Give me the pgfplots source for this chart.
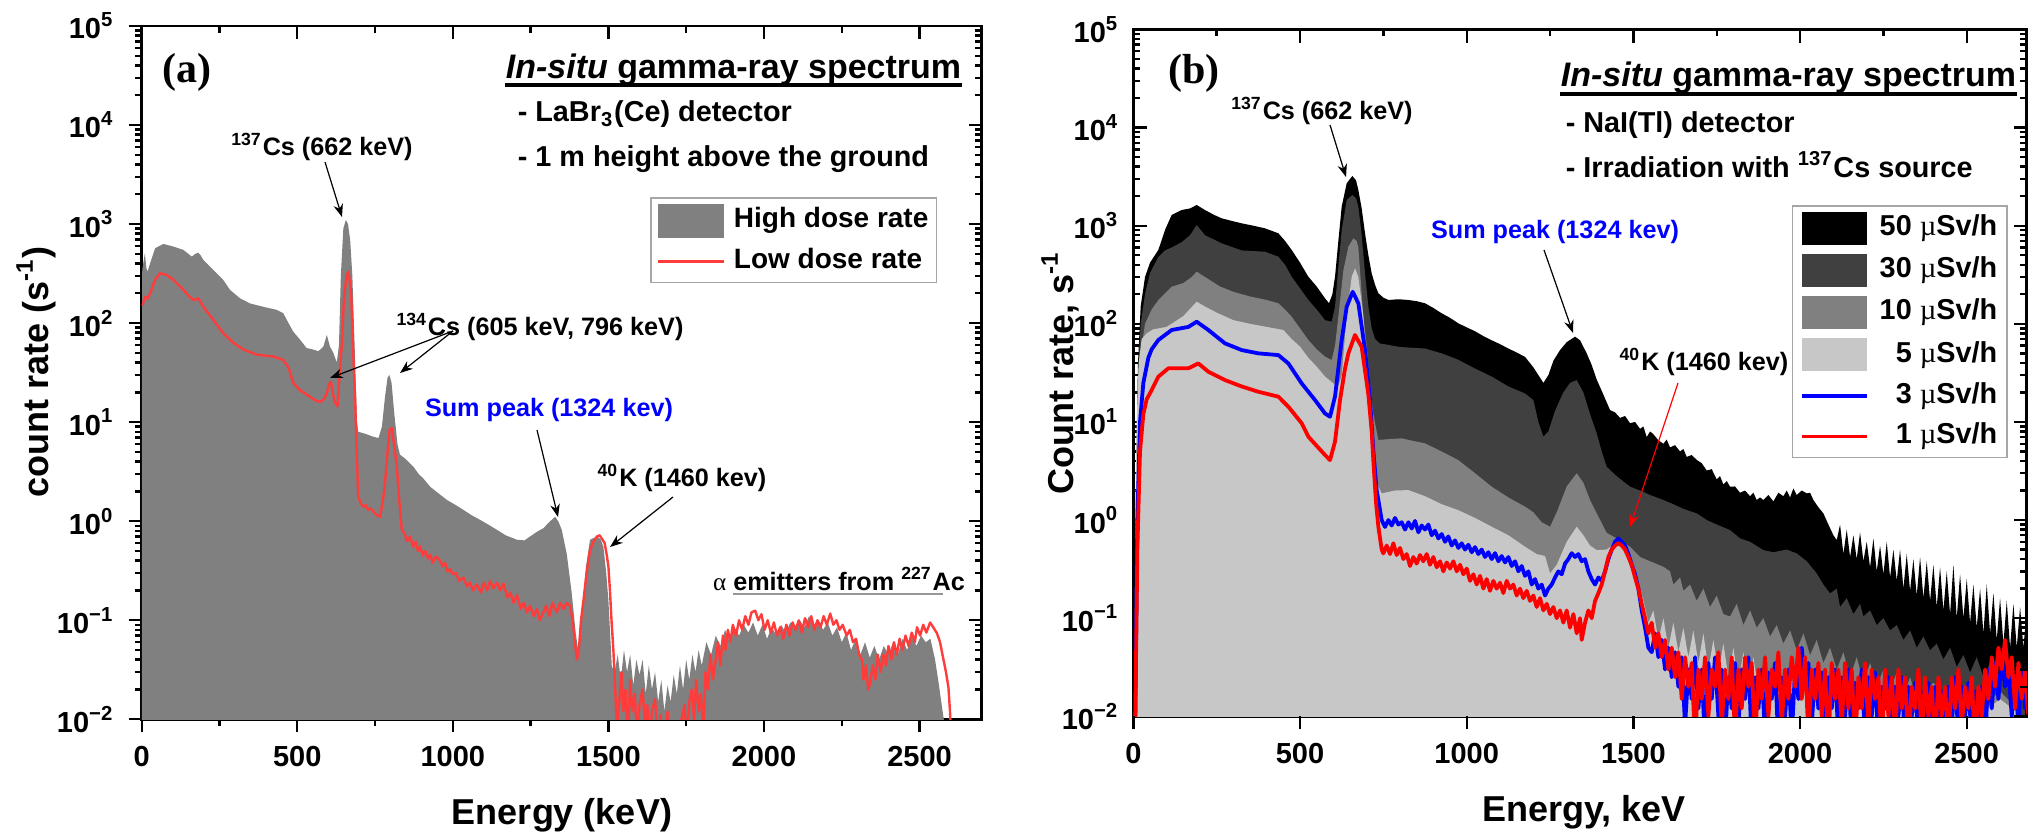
\documentclass[border=0pt]{standalone}
\usepackage{fontspec}
\setmainfont{Liberation Sans}
\newfontfamily\seriffont{Liberation Serif}
\usepackage{pgfplots}
\pgfplotsset{compat=1.18}
\usetikzlibrary{calc,arrows.meta}

\definecolor{hidose}{RGB}{128,128,128}
\definecolor{lodose}{RGB}{255,60,60}
\definecolor{g30}{RGB}{64,64,64}
\definecolor{g10}{RGB}{128,128,128}
\definecolor{g5}{RGB}{199,199,199}
\definecolor{lgray}{RGB}{150,150,150}

\newcommand{\ufont}[1]{\fontsize{#1}{#1}\selectfont\bfseries}
\newcommand{\mus}{{\seriffont\mdseries µ}}
\newcommand{\logtick}{\pgfmathtruncatemacro\myexp{round(\tick/2.302585)}\pgfmathtruncatemacro\myabs{abs(\myexp)}10\textsuperscript{\ifnum\myexp<0 −\fi\myabs}}

\begin{document}
\begin{tikzpicture}
\useasboundingbox (0,0) rectangle (507.5pt,208.5pt);
\clip (0,0) rectangle (507.5pt,208.5pt);

% ---------------- panel (a) ----------------
\begin{axis}[at={(35.43pt,28.68pt)}, anchor=south west,
  scale only axis, width=210pt, height=173.33pt,
  ymode=log, ymin=1e-2, ymax=1e5, xmin=0, xmax=2700,
  xtick={0,500,1000,1500,2000,2500}, minor x tick num=1,
  ytick={1e-2,1e-1,1,1e1,1e2,1e3,1e4,1e5},
  minor ytick={0.02,0.03,0.04,0.05,0.06,0.07,0.08,0.09,0.2,0.3,0.4,0.5,0.6,0.7,0.8,0.9,2,3,4,5,6,7,8,9,20,30,40,50,60,70,80,90,200,300,400,500,600,700,800,900,2000,3000,4000,5000,6000,7000,8000,9000,20000,30000,40000,50000,60000,70000,80000,90000},
  tick align=outside, xtick pos=left, ytick pos=left,
  major tick length=3.3pt, minor tick length=1.7pt,
  axis line style={line width=0.7pt},
  every tick/.style={black, line width=0.6pt},
  tick label style={font=\ufont{7.25}},
  /pgf/number format/assume math mode=true,
  /pgf/number format/1000 sep={},
  yticklabel={\logtick},
  legend style={at={(0.947,0.753)}, anchor=north east, draw=gray!70,
    line width=0.4pt, font=\ufont{7}, inner xsep=1.5pt, inner ysep=1.5pt,
    row sep=2.2pt, nodes={inner sep=0.5pt},
    /tikz/every odd column/.append style={column sep=1.8pt}},
  legend cell align=left]
\addplot[fill=hidose, draw=none,
  legend image code/.code={\fill[fill=hidose] (0pt,-4.2pt) rectangle (16.4pt,4.2pt);}] table {
x y
0 0.001
1 300
2 350
6 420
10 507
15 360
19 331
27 402
43 570
70 630
102 592
134 548
150 500
161 469
172 500
182 514
190 480
198 434
230 344
262 273
284 216
316 178
348 158
391 146
434 136
455 126
466 108
487 82
509 68
530 56
552 54
568 52
584 58
595 76
605 58
616 50
627 40
634 60
640 300
648 900
656 1099
663 1000
670 692
677 300
683 80
688 25
692 10
696 8.0
720 7.6
740 7.2
761 6.9
772 9
782 18
790 28
796 30
803 25
812 12
822 6
830 4.7
850 4.2
873 3.56
890 3.0
905 2.7
927 2.23
950 1.95
981 1.64
1010 1.45
1034 1.30
1060 1.15
1088 1.03
1115 0.92
1141 0.82
1170 0.72
1206 0.65
1230 0.64
1248 0.70
1270 0.78
1291 0.85
1313 1.0
1329 1.11
1340 0.98
1350 0.82
1366 0.47
1382 0.19
1395 0.074
1405 0.045
1415 0.12
1428 0.35
1441 0.65
1463 0.70
1475 0.66
1484 0.55
1493 0.30
1500 0.16
1507 0.06
1511 0.034
1520 0.03
1530 0.045
1540 0.025
1550 0.05
1560 0.03
1570 0.045
1580 0.022
1590 0.04
1600 0.028
1610 0.04
1620 0.018
1630 0.035
1640 0.02
1650 0.03
1660 0.015
1670 0.025
1680 0.012
1690 0.022
1700 0.015
1710 0.028
1720 0.018
1730 0.035
1740 0.02
1750 0.04
1760 0.025
1770 0.045
1780 0.03
1790 0.05
1800 0.035
1815 0.06
1830 0.045
1845 0.07
1860 0.055
1875 0.08
1890 0.06
1905 0.085
1920 0.07
1935 0.09
1950 0.075
1965 0.095
1980 0.07
1995 0.09
2010 0.065
2025 0.085
2040 0.07
2055 0.09
2070 0.075
2085 0.095
2100 0.08
2115 0.1
2130 0.085
2145 0.11
2160 0.09
2175 0.1
2190 0.08
2205 0.095
2220 0.07
2235 0.085
2250 0.06
2265 0.075
2280 0.05
2295 0.065
2310 0.045
2325 0.06
2340 0.042
2355 0.055
2370 0.04
2385 0.055
2400 0.045
2415 0.06
2430 0.045
2445 0.065
2460 0.05
2475 0.07
2490 0.055
2505 0.07
2520 0.06
2535 0.065
2550 0.04
2560 0.025
2570 0.015
2578 0.01
2580 0.001
};
\addlegendentry{High dose rate}
\addplot[color=lodose, line width=0.6pt, line join=round,
  legend image code/.code={\draw[color=lodose, line width=0.6pt] (0pt,0pt) -- (16.4pt,0pt);}] table {
x y
3 150
7 171
12 185
18 176
27 200
43 273
59 319
80 306
102 273
134 216
150 190
166 171
182 178
198 146
230 108
262 79
295 63
327 54
370 48
423 46
455 42.5
471 36
487 25
509 21
541 18
560 16.5
573 16
585 17
595 19.6
602 24
608 25.7
614 20
620 16
629 14.4
636 30
643 60
650 171
658 300
664 331
669 260
673 200
677 90
681 40
686 16.7
691 5
696 1.77
705 1.5
712 1.40
720 1.45
728 1.3
735 1.35
745 1.25
755 1.15
766 1.11
775 1.6
782 2.42
790 5
797 8.5
804 8.7
811 6
820 3.56
828 1.6
836 0.82
845 0.75
853 0.63
863 0.7
872 0.55
880 0.62
888 0.5
895 0.56
903 0.45
912 0.5
920 0.42
927 0.46
935 0.38
945 0.44
959 0.40
967 0.35
975 0.38
983 0.31
991 0.33
1000 0.29
1010 0.3
1020 0.25
1034 0.27
1045 0.22
1055 0.24
1065 0.2
1077 0.23
1090 0.19
1100 0.24
1110 0.2
1120 0.25
1130 0.21
1142 0.24
1152 0.2
1163 0.235
1175 0.17
1185 0.19
1195 0.15
1206 0.18
1218 0.13
1228 0.15
1238 0.12
1248 0.14
1260 0.11
1270 0.13
1280 0.1
1291 0.12
1300 0.14
1310 0.11
1320 0.15
1334 0.12
1345 0.15
1356 0.13
1366 0.15
1377 0.14
1385 0.1
1392 0.06
1399 0.04
1405 0.05
1412 0.1
1420 0.16
1430 0.3
1441 0.51
1452 0.62
1463 0.70
1472 0.72
1480 0.66
1488 0.6
1495 0.45
1500 0.35
1505 0.2
1510 0.1
1516 0.05
1522 0.02
1527 0.008
1535 0.015
1542 0.03
1548 0.012
1555 0.02
1562 0.006
1570 0.025
1577 0.012
1585 0.018
1592 0.006
1600 0.014
1610 0.02
1618 0.008
1625 0.014
1632 0.006
1640 0.012
1650 0.016
1660 0.006
1668 0.011
1676 0.005
1690 0.012
1700 0.006
1712 0.009
1720 0.005
1735 0.01
1745 0.014
1752 0.006
1760 0.015
1768 0.02
1775 0.01
1782 0.025
1790 0.012
1797 0.018
1805 0.008
1812 0.03
1820 0.02
1828 0.045
1836 0.025
1845 0.04
1852 0.06
1860 0.035
1868 0.07
1876 0.05
1884 0.08
1892 0.06
1900 0.09
1910 0.07
1920 0.1
1930 0.08
1940 0.11
1950 0.09
1960 0.12
1972 0.125
1982 0.1
1992 0.115
2002 0.08
2012 0.1
2022 0.075
2032 0.095
2042 0.07
2052 0.085
2062 0.065
2072 0.09
2082 0.07
2092 0.095
2102 0.08
2112 0.1
2122 0.075
2132 0.105
2142 0.085
2152 0.11
2162 0.08
2172 0.1
2182 0.085
2192 0.11
2202 0.09
2213 0.117
2223 0.09
2233 0.1
2243 0.08
2253 0.09
2266 0.07
2276 0.08
2286 0.06
2296 0.065
2306 0.045
2315 0.04
2320 0.025
2328 0.035
2335 0.02
2341 0.023
2350 0.035
2358 0.025
2366 0.045
2375 0.03
2384 0.045
2392 0.035
2400 0.055
2410 0.04
2418 0.06
2427 0.045
2436 0.065
2445 0.05
2455 0.07
2465 0.055
2475 0.075
2485 0.06
2492 0.085
2502 0.07
2512 0.09
2522 0.075
2534 0.095
2544 0.085
2556 0.074
2566 0.06
2577 0.04
2585 0.03
2593 0.021
2598 0.012
2603 0.005
};
\addlegendentry{Low dose rate}
\end{axis}
% mirrored ticks, top and right, pointing inwards
\begin{axis}[at={(35.43pt,28.68pt)}, anchor=south west,
  scale only axis, width=210pt, height=173.33pt,
  ymode=log, ymin=1e-2, ymax=1e5, xmin=0, xmax=2700,
  xtick={0,500,1000,1500,2000,2500}, minor x tick num=1,
  ytick={1e-2,1e-1,1,1e1,1e2,1e3,1e4,1e5},
  minor ytick={0.02,0.03,0.04,0.05,0.06,0.07,0.08,0.09,0.2,0.3,0.4,0.5,0.6,0.7,0.8,0.9,2,3,4,5,6,7,8,9,20,30,40,50,60,70,80,90,200,300,400,500,600,700,800,900,2000,3000,4000,5000,6000,7000,8000,9000,20000,30000,40000,50000,60000,70000,80000,90000},
  tick align=inside, xtick pos=right, ytick pos=right,
  xticklabels={}, yticklabels={},
  major tick length=3.3pt, minor tick length=1.7pt,
  axis line style={draw=none},
  every tick/.style={black, line width=0.6pt}]
\end{axis}

% ---------------- panel (b) ----------------
\begin{axis}[at={(283.33pt,29.43pt)}, anchor=south west,
  scale only axis, width=223.35pt, height=171.7pt,
  ymode=log, ymin=1e-2, ymax=1e5, xmin=0, xmax=2680,
  xtick=\empty,
  ytick={1e-2,1e-1,1,1e1,1e2,1e3,1e4,1e5},
  minor ytick={0.02,0.03,0.04,0.05,0.06,0.07,0.08,0.09,0.2,0.3,0.4,0.5,0.6,0.7,0.8,0.9,2,3,4,5,6,7,8,9,20,30,40,50,60,70,80,90,200,300,400,500,600,700,800,900,2000,3000,4000,5000,6000,7000,8000,9000,20000,30000,40000,50000,60000,70000,80000,90000},
  tick align=inside, ytick pos=left,
  major tick length=3.3pt, minor tick length=1.7pt,
  axis line style={line width=0.7pt},
  every tick/.style={black, line width=0.6pt},
  tick label style={font=\ufont{7.25}},
  yticklabel={\logtick},
  legend style={at={(0.979,0.7445)}, anchor=north east, draw=gray!70,
    line width=0.4pt, font=\ufont{7.2}, inner xsep=2pt, inner ysep=1.5pt,
    row sep=2.35pt, nodes={inner sep=0.5pt},
    /tikz/every odd column/.append style={column sep=2.2pt}},
  legend cell align=right]
\addplot[fill=black, draw=none,
  legend image code/.code={\fill[fill=black] (0pt,-4.1pt) rectangle (16.3pt,4.1pt);}] table {
x y
0 0.001
4 0.01
8 2
14 40
22 150
35 300
50 420
75 566
95 904
115 1285
145 1445
170 1500
190 1626
215 1445
240 1300
265 1189
295 1120
325 1057
360 1000
395 940
435 837
455 700
475 566
500 420
525 302
550 240
575 182
587 162
597 200
605 302
615 700
625 1563
640 2704
657 3214
668 2900
675 2312
685 1500
695 837
705 500
715 327
725 250
735 205
750 185
765 175
795 178
825 175
850 170
875 162
900 145
925 128
950 115
975 101
1000 92
1025 84
1050 75
1075 68
1100 62
1125 56
1150 51
1175 46
1200 36
1215 30
1230 25
1245 30
1260 42
1280 54
1300 65
1325 74
1340 68
1360 50
1375 38
1390 27
1410 19
1430 13.2
1445 12.5
1460 11
1475 11.5
1490 9.7
1505 10
1520 8.5
1530 9
1540 7.0
1550 8
1560 7.5
1575 6.5
1590 6.0
1600 6.6
1610 5.5
1625 5.8
1640 5.0
1650 5.3
1660 4.4
1675 4.6
1690 4.1
1705 3.8
1720 3.2
1735 3.3
1750 2.6
1760 2.8
1770 2.3
1780 2.5
1790 2.19
1805 2.2
1820 1.9
1835 2.0
1850 1.75
1860 1.9
1870 1.6
1880 1.7
1890 1.6
1905 1.8
1920 1.55
1935 1.9
1950 1.75
1960 2.0
1970 1.7
1980 2.1
1990 1.8
2005 2.0
2020 1.87
2030 1.9
2040 1.6
2055 1.35
2070 1.17
2085 0.9
2100 0.7
2110 0.625
2120 0.9
2130 0.45
2140 0.8
2150 0.42
2160 0.7
2170 0.4
2180 0.75
2190 0.38
2200 0.6
2210 0.33
2220 0.65
2230 0.3
2240 0.55
2250 0.28
2260 0.6
2270 0.26
2280 0.5
2290 0.24
2300 0.5
2310 0.2
2320 0.45
2330 0.19
2340 0.4
2350 0.17
2360 0.42
2370 0.16
2380 0.38
2390 0.15
2400 0.35
2410 0.13
2420 0.33
2430 0.12
2440 0.3
2450 0.11
2460 0.35
2470 0.1
2480 0.28
2490 0.1
2500 0.25
2510 0.09
2520 0.22
2530 0.08
2540 0.2
2550 0.07
2560 0.22
2570 0.07
2580 0.18
2590 0.06
2600 0.16
2610 0.055
2620 0.15
2630 0.05
2640 0.14
2650 0.05
2660 0.13
2670 0.05
2680 0.12
2690 0.001
};
\addlegendentry{50 \mus Sv/h}
\addplot[fill=g30, draw=none,
  legend image code/.code={\fill[fill=g30] (0pt,-4.1pt) rectangle (16.3pt,4.1pt);}] table {
x y
0 0.001
4 0.01
8 2
14 30
22 100
35 200
50 330
75 480
95 560
115 600
145 680
170 800
190 1016
215 800
265 661
325 560
395 543
435 483
455 400
475 302
500 230
525 175
550 140
575 109
595 105
605 150
615 382
625 900
640 1828
657 2055
668 1900
675 1563
685 800
695 327
705 150
715 90
725 70
740 63
765 61
800 58
840 57
875 56
925 50
975 43
1025 35
1075 29
1125 23
1175 19.5
1200 16.7
1215 10
1230 7.07
1245 8
1265 13
1290 20
1310 25
1330 26.7
1350 20
1370 12
1390 7.66
1405 5
1420 3.49
1450 2.8
1490 2.19
1520 2.0
1550 1.8
1590 1.6
1620 1.45
1650 1.3
1690 1.17
1720 1.0
1750 0.9
1790 0.79
1820 0.65
1850 0.6
1890 0.494
1920 0.47
1960 0.5
1990 0.457
2020 0.38
2050 0.286
2070 0.22
2090 0.179
2110 0.2
2120 0.13
2140 0.16
2160 0.11
2180 0.14
2190 0.104
2210 0.12
2230 0.085
2250 0.1
2270 0.075
2290 0.085
2310 0.06
2330 0.075
2350 0.05
2370 0.065
2390 0.047
2410 0.055
2430 0.038
2450 0.05
2470 0.032
2490 0.042
2510 0.028
2530 0.04
2550 0.025
2570 0.035
2590 0.022
2610 0.03
2630 0.02
2650 0.028
2670 0.0216
2690 0.001
};
\addlegendentry{30 \mus Sv/h}
\addplot[fill=g10, draw=none,
  legend image code/.code={\fill[fill=g10] (0pt,-4.1pt) rectangle (16.3pt,4.1pt);}] table {
x y
0 0.001
4 0.01
8 1
14 15
22 50
35 100
55 140
75 175
115 239
150 260
175 300
190 340
215 300
260 240
300 212
350 190
400 175
435 162
455 140
475 118
500 90
525 68.4
550 55
575 46.3
595 42.8
605 60
615 118
630 350
645 611
660 743
670 700
675 600
690 118
700 60
710 24.7
720 12
735 6.55
770 6.7
805 6.8
840 6.4
875 6.05
925 5
975 4.08
1025 3.0
1075 2.19
1125 1.7
1175 1.37
1200 1.2
1225 0.95
1250 0.855
1270 1.2
1300 2.2
1330 3.0
1350 2.4
1370 1.6
1390 1.17
1420 0.74
1450 0.65
1490 0.535
1520 0.42
1550 0.38
1590 0.334
1610 0.3
1620 0.22
1640 0.26
1650 0.19
1670 0.22
1690 0.15
1710 0.2
1730 0.13
1750 0.17
1770 0.11
1790 0.104
1810 0.14
1830 0.085
1850 0.12
1870 0.08
1890 0.1
1910 0.065
1930 0.085
1950 0.055
1970 0.075
1990 0.047
2010 0.07
2030 0.042
2050 0.06
2070 0.035
2090 0.05
2110 0.03
2130 0.045
2150 0.025
2170 0.04
2190 0.022
2210 0.035
2230 0.02
2250 0.03
2270 0.018
2290 0.028
2310 0.016
2330 0.025
2350 0.015
2400 0.022
2450 0.014
2500 0.02
2550 0.013
2600 0.018
2650 0.012
2690 0.001
};
\addlegendentry{10 \mus Sv/h}
\addplot[fill=g5, draw=none,
  legend image code/.code={\fill[fill=g5] (0pt,-4.1pt) rectangle (16.3pt,4.1pt);}] table {
x y
0 0.001
3 0.01
6 1
10 10
16 40
25 70
40 80
60 88
100 93
150 120
190 168
215 150
250 130
300 109
350 100
400 93
450 86.5
475 70
500 58.5
525 45
550 36.6
575 29
600 24.7
615 23
625 30
640 120
655 302
665 368
675 300
690 120
700 40
710 10
720 4
735 2.2
745 1.87
785 2.0
825 2.02
875 1.75
925 1.45
975 1.26
1025 1.05
1075 0.855
1125 0.7
1175 0.535
1210 0.45
1235 0.43
1250 0.286
1270 0.35
1300 0.6
1330 0.855
1350 0.7
1370 0.55
1390 0.494
1420 0.5
1450 0.6
1470 0.55
1490 0.334
1510 0.25
1530 0.153
1545 0.09
1560 0.12
1575 0.06
1590 0.1
1605 0.05
1620 0.09
1635 0.045
1650 0.08
1665 0.04
1680 0.075
1695 0.035
1710 0.07
1725 0.03
1740 0.06
1755 0.028
1770 0.055
1785 0.025
1800 0.05
1815 0.022
1830 0.045
1845 0.02
1860 0.04
1875 0.018
1890 0.035
1910 0.016
1930 0.03
1950 0.015
1970 0.028
2000 0.014
2030 0.025
2060 0.013
2100 0.022
2150 0.012
2200 0.02
2250 0.012
2300 0.018
2350 0.011
2400 0.016
2450 0.011
2500 0.016
2550 0.011
2600 0.015
2650 0.011
2690 0.001
};
\addlegendentry{5 \mus Sv/h}
\addplot[color=blue, line width=0.95pt, line join=round,
  legend image code/.code={\draw[color=blue, line width=0.8pt] (0pt,0pt) -- (16.3pt,0pt);}] table {
x y
5 0.005
12 1
20 10
30 25
45 45
55 55
75 68.4
115 86.5
165 93
190 105
225 86.5
275 63.2
325 54
375 50
435 48
465 39.5
505 24.7
545 16.7
575 12.2
590 11.3
605 18.2
625 68.4
640 149
658 212
675 162
695 54
710 16.7
720 5
730 2
735 1.6
745 1.0
755 0.85
765 1.0
775 0.88
785 1.05
795 0.9
805 0.95
815 0.8
825 0.95
835 0.82
845 0.98
855 0.75
865 0.88
875 0.8
885 0.9
895 0.7
905 0.78
915 0.65
925 0.72
935 0.6
945 0.68
955 0.55
965 0.62
975 0.52
985 0.58
995 0.5
1005 0.56
1015 0.47
1025 0.53
1035 0.45
1045 0.5
1055 0.42
1065 0.47
1075 0.4
1085 0.46
1095 0.38
1105 0.43
1115 0.37
1125 0.42
1135 0.34
1145 0.38
1155 0.3
1165 0.34
1175 0.27
1185 0.3
1195 0.22
1205 0.25
1215 0.2
1225 0.22
1235 0.17
1245 0.2
1255 0.22
1265 0.26
1275 0.3
1285 0.28
1295 0.36
1305 0.4
1315 0.46
1325 0.42
1335 0.45
1345 0.38
1355 0.4
1365 0.3
1375 0.25
1385 0.22
1395 0.26
1405 0.24
1415 0.3
1425 0.4
1435 0.5
1445 0.6
1455 0.65
1465 0.6
1475 0.55
1485 0.45
1495 0.35
1505 0.28
1515 0.2
1525 0.12
1535 0.08
1545 0.05
1555 0.045
1565 0.07
1575 0.04
1585 0.06
1595 0.03
1605 0.05
1615 0.025
1625 0.045
1635 0.02
1645 0.04
1655 0.008
1665 0.03
1675 0.015
1685 0.04
1695 0.012
1705 0.03
1715 0.005
1725 0.035
1735 0.015
1745 0.04
1755 0.01
1765 0.03
1775 0.006
1785 0.025
1795 0.012
1805 0.035
1815 0.008
1825 0.03
1835 0.015
1845 0.04
1855 0.005
1865 0.025
1875 0.012
1885 0.03
1895 0.006
1905 0.028
1915 0.015
1925 0.035
1935 0.005
1945 0.025
1955 0.01
1965 0.03
1975 0.006
1985 0.03
1995 0.015
2005 0.05
2015 0.02
2025 0.035
2035 0.008
2045 0.03
2055 0.012
2065 0.028
2075 0.005
2085 0.025
2095 0.012
2105 0.03
2115 0.006
2125 0.025
2135 0.01
2145 0.03
2155 0.005
2165 0.022
2175 0.012
2185 0.03
2195 0.006
2205 0.025
2215 0.01
2225 0.028
2235 0.005
2245 0.02
2255 0.012
2265 0.025
2275 0.006
2285 0.02
2295 0.01
2305 0.025
2315 0.005
2325 0.02
2335 0.01
2345 0.022
2355 0.005
2365 0.018
2375 0.01
2385 0.022
2395 0.005
2405 0.02
2415 0.008
2425 0.018
2435 0.005
2445 0.02
2455 0.008
2465 0.025
2475 0.006
2485 0.02
2495 0.01
2505 0.022
2515 0.005
2525 0.018
2535 0.008
2545 0.02
2555 0.005
2565 0.03
2575 0.012
2585 0.035
2595 0.015
2605 0.04
2615 0.02
2625 0.03
2635 0.01
2645 0.025
2655 0.008
2665 0.03
2675 0.012
2685 0.02
};
\addlegendentry{3 \mus Sv/h}
\addplot[color=red, line width=0.95pt, line join=round,
  legend image code/.code={\draw[color=red, line width=0.8pt] (0pt,0pt) -- (16.3pt,0pt);}] table {
x y
5 0.005
12 0.5
20 5
30 12
40 17
55 21.1
75 28.9
105 35.2
165 35.2
195 39.5
225 32.5
275 26.7
325 23
375 20.3
435 18.1
465 14.3
505 9.7
525 7.07
575 4.6
590 4.08
605 6.3
620 16.7
635 35
645 50
665 77
685 58
705 19
715 8
720 4
728 1.5
735 0.855
745 0.5
750 0.457
760 0.55
770 0.45
780 0.58
790 0.44
800 0.52
810 0.4
820 0.45
830 0.34
840 0.42
850 0.36
860 0.44
870 0.38
880 0.45
890 0.35
900 0.42
910 0.33
920 0.38
930 0.3
940 0.37
950 0.32
960 0.38
970 0.3
980 0.35
990 0.28
1000 0.32
1010 0.24
1020 0.28
1030 0.22
1040 0.27
1050 0.2
1060 0.25
1070 0.19
1080 0.24
1090 0.2
1100 0.23
1110 0.18
1120 0.24
1130 0.2
1140 0.22
1150 0.17
1160 0.2
1170 0.16
1180 0.19
1190 0.15
1200 0.17
1210 0.13
1220 0.16
1230 0.12
1240 0.14
1250 0.11
1260 0.13
1270 0.1
1280 0.12
1290 0.09
1300 0.12
1310 0.08
1320 0.11
1330 0.07
1340 0.1
1345 0.06
1355 0.09
1365 0.12
1375 0.1
1385 0.15
1395 0.18
1405 0.22
1415 0.3
1425 0.42
1435 0.5
1445 0.55
1455 0.58
1465 0.55
1475 0.5
1485 0.42
1495 0.35
1505 0.26
1515 0.2
1525 0.14
1535 0.1
1545 0.07
1555 0.09
1565 0.05
1575 0.07
1585 0.04
1595 0.06
1605 0.03
1615 0.05
1625 0.025
1635 0.045
1645 0.015
1655 0.04
1665 0.02
1675 0.035
1685 0.005
1695 0.03
1705 0.015
1715 0.04
1725 0.01
1735 0.03
1745 0.02
1755 0.045
1765 0.008
1775 0.03
1785 0.015
1795 0.04
1805 0.006
1815 0.03
1825 0.012
1835 0.04
1845 0.02
1855 0.035
1865 0.005
1875 0.03
1885 0.015
1895 0.04
1905 0.01
1915 0.03
1925 0.02
1935 0.045
1945 0.008
1955 0.03
1965 0.015
1975 0.04
1985 0.02
1995 0.05
2005 0.015
2015 0.04
2025 0.006
2035 0.03
2045 0.015
2055 0.035
2065 0.01
2075 0.03
2085 0.005
2095 0.035
2105 0.015
2115 0.03
2125 0.008
2135 0.035
2145 0.012
2155 0.03
2165 0.005
2175 0.025
2185 0.012
2195 0.035
2205 0.008
2215 0.03
2225 0.015
2235 0.025
2245 0.005
2255 0.03
2265 0.01
2275 0.025
2285 0.006
2295 0.03
2305 0.012
2315 0.025
2325 0.005
2335 0.02
2345 0.012
2355 0.03
2365 0.006
2375 0.025
2385 0.01
2395 0.02
2405 0.005
2415 0.025
2425 0.01
2435 0.02
2445 0.006
2455 0.025
2465 0.012
2475 0.03
2485 0.008
2495 0.02
2505 0.012
2515 0.025
2525 0.005
2535 0.02
2545 0.01
2555 0.03
2565 0.015
2575 0.04
2585 0.02
2595 0.05
2605 0.03
2615 0.06
2625 0.025
2635 0.04
2645 0.012
2655 0.035
2665 0.015
2675 0.03
2685 0.01
};
\addlegendentry{1 \mus Sv/h}
\end{axis}
% bottom x ticks (outside) for panel (b)
\begin{axis}[at={(283.33pt,29.43pt)}, anchor=south west,
  scale only axis, width=223.35pt, height=171.7pt,
  ymode=log, ymin=1e-2, ymax=1e5, xmin=0, xmax=2680,
  xtick={0,500,1000,1500,2000,2500}, ytick=\empty,
  tick align=outside, xtick pos=left,
  major tick length=3.3pt,
  axis line style={draw=none},
  every tick/.style={black, line width=0.6pt},
  tick label style={font=\ufont{7.25}},
  /pgf/number format/assume math mode=true,
  /pgf/number format/1000 sep={}]
\end{axis}
% mirrored ticks, top and right
\begin{axis}[at={(283.33pt,29.43pt)}, anchor=south west,
  scale only axis, width=223.35pt, height=171.7pt,
  ymode=log, ymin=1e-2, ymax=1e5, xmin=0, xmax=2680,
  xtick={0,500,1000,1500,2000,2500}, minor x tick num=1,
  ytick={1e-2,1e-1,1,1e1,1e2,1e3,1e4,1e5},
  minor ytick={0.02,0.03,0.04,0.05,0.06,0.07,0.08,0.09,0.2,0.3,0.4,0.5,0.6,0.7,0.8,0.9,2,3,4,5,6,7,8,9,20,30,40,50,60,70,80,90,200,300,400,500,600,700,800,900,2000,3000,4000,5000,6000,7000,8000,9000,20000,30000,40000,50000,60000,70000,80000,90000},
  tick align=inside, xtick pos=right, ytick pos=right,
  xticklabels={}, yticklabels={},
  major tick length=3.3pt, minor tick length=1.7pt,
  axis line style={draw=none},
  every tick/.style={black, line width=0.6pt}]
\end{axis}

% ---------------- labels and annotations (coordinates in reference pixels) ----------------
\begin{scope}[x=0.25pt, y=-0.25pt, yshift=208.5pt]
\tikzset{ann/.style={font=\ufont{6.3}, inner sep=0pt},
  arr/.style={-{Stealth[length=3.2pt,width=2.4pt]}, line width=0.3pt}}
\node[font=\ufont{9}] at (562,815) {Energy (keV)};
\node[font=\ufont{9}, rotate=90] at (36,372) {count rate (s\textsuperscript{-1})};
\node[font=\ufont{9}] at (1584,812) {Energy, keV};
\node[font=\ufont{9}, rotate=90] at (1060,373) {Count rate, s\textsuperscript{-1}};
% panel (a)
\node[font=\seriffont\bfseries\fontsize{10.5}{11}\selectfont, inner sep=0pt] at (187,72) {(a)};
\node[anchor=base east, font=\ufont{8.5}, inner sep=0pt] (ta) at (962,79) {\textit{In-situ} gamma-ray spectrum};
\draw[line width=0.9pt] ($(ta.base west)+(0,6)$) -- ($(ta.base east)+(0,6)$);
\node[anchor=base west, font=\ufont{7.2}, inner sep=0pt] at (517,122) {- LaBr\textsubscript{3}(Ce) detector};
\node[anchor=base west, font=\ufont{7.2}, inner sep=0pt] at (517,167) {- 1 m height above the ground};
\node[ann] at (322,147) {\textsuperscript{137}Cs (662 keV)};
\draw[arr] (325,162) -- (342,217);
\node[ann] at (540,327) {\textsuperscript{134}Cs (605 keV, 796 keV)};
\draw[arr] (453,331) -- (330,378);
\draw[arr] (453,331) -- (400,373);
\node[ann, text=blue] at (549,410) {Sum peak (1324 kev)};
\draw[arr] (537,430) -- (558,517);
\node[ann] at (682,478) {\textsuperscript{40}K (1460 kev)};
\draw[arr] (673,497) -- (610,547);
\node[ann] at (839,579) {{\seriffont\mdseries α} emitters from \textsuperscript{227}Ac};
\draw[lgray, line width=0.35pt] (733,594) -- (943,594);
% panel (b)
\node[font=\seriffont\bfseries\fontsize{10.5}{11}\selectfont, inner sep=0pt] at (1194,73) {(b)};
\node[anchor=base east, font=\ufont{8.5}, inner sep=0pt] (tb) at (2017,87) {\textit{In-situ} gamma-ray spectrum};
\draw[line width=0.9pt] ($(tb.base west)+(0,7)$) -- ($(tb.base east)+(0,7)$);
\node[anchor=base west, font=\ufont{7.2}, inner sep=0pt] at (1565,133) {- NaI(Tl) detector};
\node[anchor=base west, font=\ufont{7.2}, inner sep=0pt] at (1565,178) {- Irradiation with \textsuperscript{137}Cs source};
\node[ann] at (1322,111) {\textsuperscript{137}Cs (662 keV)};
\draw[arr] (1330,125) -- (1346,177);
\node[ann, text=blue] at (1555,232) {Sum peak (1324 kev)};
\draw[arr] (1544,250) -- (1573,333);
\node[ann] at (1704,362) {\textsuperscript{40}K (1460 kev)};
\draw[arr, red] (1678,383) -- (1630,527);
\end{scope}
\end{tikzpicture}
\end{document}
